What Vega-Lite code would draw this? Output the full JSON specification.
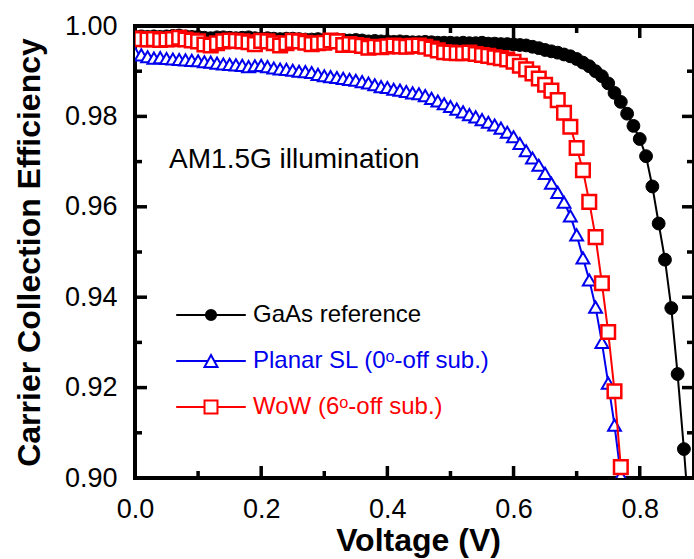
{
  "$schema": "https://vega.github.io/schema/vega-lite/v6.json",
  "width": 559,
  "height": 452,
  "autosize": {"type": "none"},
  "padding": {"left": 135, "top": 26, "right": 0, "bottom": 81},
  "background": "white",
  "config": {
    "view": {"stroke": "black", "strokeWidth": 4},
    "font": "Liberation Sans",
    "axis": {
      "grid": false,
      "labelFont": "Liberation Sans",
      "labelFontSize": 27,
      "labelColor": "black",
      "titleFont": "Liberation Sans",
      "titleFontSize": 32,
      "titleFontWeight": "bold",
      "titleColor": "black",
      "labelOverlap": false,
      "labelFlush": false
    }
  },
  "datasets": {
    "gaas": [
      {"series":"GaAs reference","V":0.00,"CCE":0.9976},{"series":"GaAs reference","V":0.01,"CCE":0.9977},{"series":"GaAs reference","V":0.02,"CCE":0.9976},{"series":"GaAs reference","V":0.03,"CCE":0.9977},{"series":"GaAs reference","V":0.04,"CCE":0.9976},{"series":"GaAs reference","V":0.05,"CCE":0.9977},{"series":"GaAs reference","V":0.06,"CCE":0.9978},{"series":"GaAs reference","V":0.07,"CCE":0.9979},{"series":"GaAs reference","V":0.08,"CCE":0.9977},{"series":"GaAs reference","V":0.09,"CCE":0.9976},
      {"series":"GaAs reference","V":0.10,"CCE":0.9976},{"series":"GaAs reference","V":0.11,"CCE":0.9974},{"series":"GaAs reference","V":0.12,"CCE":0.9973},{"series":"GaAs reference","V":0.13,"CCE":0.9975},{"series":"GaAs reference","V":0.14,"CCE":0.9975},{"series":"GaAs reference","V":0.15,"CCE":0.9974},{"series":"GaAs reference","V":0.16,"CCE":0.9973},{"series":"GaAs reference","V":0.17,"CCE":0.9974},{"series":"GaAs reference","V":0.18,"CCE":0.9975},{"series":"GaAs reference","V":0.19,"CCE":0.9973},
      {"series":"GaAs reference","V":0.20,"CCE":0.9972},{"series":"GaAs reference","V":0.21,"CCE":0.9973},{"series":"GaAs reference","V":0.22,"CCE":0.9972},{"series":"GaAs reference","V":0.23,"CCE":0.9971},{"series":"GaAs reference","V":0.24,"CCE":0.9972},{"series":"GaAs reference","V":0.25,"CCE":0.9972},{"series":"GaAs reference","V":0.26,"CCE":0.9971},{"series":"GaAs reference","V":0.27,"CCE":0.9970},{"series":"GaAs reference","V":0.28,"CCE":0.9970},{"series":"GaAs reference","V":0.29,"CCE":0.9971},
      {"series":"GaAs reference","V":0.30,"CCE":0.9969},{"series":"GaAs reference","V":0.31,"CCE":0.9969},{"series":"GaAs reference","V":0.32,"CCE":0.9970},{"series":"GaAs reference","V":0.33,"CCE":0.9969},{"series":"GaAs reference","V":0.34,"CCE":0.9968},{"series":"GaAs reference","V":0.35,"CCE":0.9969},{"series":"GaAs reference","V":0.36,"CCE":0.9968},{"series":"GaAs reference","V":0.37,"CCE":0.9966},{"series":"GaAs reference","V":0.38,"CCE":0.9967},{"series":"GaAs reference","V":0.39,"CCE":0.9966},
      {"series":"GaAs reference","V":0.40,"CCE":0.9966},{"series":"GaAs reference","V":0.41,"CCE":0.9965},{"series":"GaAs reference","V":0.42,"CCE":0.9966},{"series":"GaAs reference","V":0.43,"CCE":0.9965},{"series":"GaAs reference","V":0.44,"CCE":0.9964},{"series":"GaAs reference","V":0.45,"CCE":0.9964},{"series":"GaAs reference","V":0.46,"CCE":0.9965},{"series":"GaAs reference","V":0.47,"CCE":0.9964},{"series":"GaAs reference","V":0.48,"CCE":0.9963},{"series":"GaAs reference","V":0.49,"CCE":0.9963},
      {"series":"GaAs reference","V":0.50,"CCE":0.9963},{"series":"GaAs reference","V":0.51,"CCE":0.9962},{"series":"GaAs reference","V":0.52,"CCE":0.9963},{"series":"GaAs reference","V":0.53,"CCE":0.9962},{"series":"GaAs reference","V":0.54,"CCE":0.9962},{"series":"GaAs reference","V":0.55,"CCE":0.9963},{"series":"GaAs reference","V":0.56,"CCE":0.9961},{"series":"GaAs reference","V":0.57,"CCE":0.9961},{"series":"GaAs reference","V":0.58,"CCE":0.9960},{"series":"GaAs reference","V":0.59,"CCE":0.9960},
      {"series":"GaAs reference","V":0.60,"CCE":0.9959},{"series":"GaAs reference","V":0.61,"CCE":0.9958},{"series":"GaAs reference","V":0.62,"CCE":0.9957},{"series":"GaAs reference","V":0.63,"CCE":0.9954},{"series":"GaAs reference","V":0.64,"CCE":0.9951},{"series":"GaAs reference","V":0.65,"CCE":0.9947},{"series":"GaAs reference","V":0.66,"CCE":0.9944},{"series":"GaAs reference","V":0.67,"CCE":0.9941},{"series":"GaAs reference","V":0.68,"CCE":0.9937},{"series":"GaAs reference","V":0.69,"CCE":0.9933},
      {"series":"GaAs reference","V":0.70,"CCE":0.9927},{"series":"GaAs reference","V":0.71,"CCE":0.9919},{"series":"GaAs reference","V":0.72,"CCE":0.9911},{"series":"GaAs reference","V":0.73,"CCE":0.9900},{"series":"GaAs reference","V":0.74,"CCE":0.9889},{"series":"GaAs reference","V":0.75,"CCE":0.9873},{"series":"GaAs reference","V":0.76,"CCE":0.9852},{"series":"GaAs reference","V":0.77,"CCE":0.9832},{"series":"GaAs reference","V":0.78,"CCE":0.9806},{"series":"GaAs reference","V":0.79,"CCE":0.9779},
      {"series":"GaAs reference","V":0.80,"CCE":0.9750},{"series":"GaAs reference","V":0.81,"CCE":0.9712},{"series":"GaAs reference","V":0.82,"CCE":0.9645},{"series":"GaAs reference","V":0.83,"CCE":0.9563},{"series":"GaAs reference","V":0.84,"CCE":0.9483},{"series":"GaAs reference","V":0.85,"CCE":0.9376},{"series":"GaAs reference","V":0.86,"CCE":0.9230},{"series":"GaAs reference","V":0.87,"CCE":0.9064},{"series":"GaAs reference","V":0.88,"CCE":0.8880}
    ],
    "planar": [
      {"series":"Planar SL (0ᵒ-off sub.)","V":0.00,"CCE":0.9940},{"series":"Planar SL (0ᵒ-off sub.)","V":0.01,"CCE":0.9936},{"series":"Planar SL (0ᵒ-off sub.)","V":0.02,"CCE":0.9932},{"series":"Planar SL (0ᵒ-off sub.)","V":0.03,"CCE":0.9929},{"series":"Planar SL (0ᵒ-off sub.)","V":0.04,"CCE":0.9930},{"series":"Planar SL (0ᵒ-off sub.)","V":0.05,"CCE":0.9928},{"series":"Planar SL (0ᵒ-off sub.)","V":0.06,"CCE":0.9927},{"series":"Planar SL (0ᵒ-off sub.)","V":0.07,"CCE":0.9926},{"series":"Planar SL (0ᵒ-off sub.)","V":0.08,"CCE":0.9925},{"series":"Planar SL (0ᵒ-off sub.)","V":0.09,"CCE":0.9924},
      {"series":"Planar SL (0ᵒ-off sub.)","V":0.10,"CCE":0.9923},{"series":"Planar SL (0ᵒ-off sub.)","V":0.11,"CCE":0.9921},{"series":"Planar SL (0ᵒ-off sub.)","V":0.12,"CCE":0.9920},{"series":"Planar SL (0ᵒ-off sub.)","V":0.13,"CCE":0.9918},{"series":"Planar SL (0ᵒ-off sub.)","V":0.14,"CCE":0.9916},{"series":"Planar SL (0ᵒ-off sub.)","V":0.15,"CCE":0.9915},{"series":"Planar SL (0ᵒ-off sub.)","V":0.16,"CCE":0.9914},{"series":"Planar SL (0ᵒ-off sub.)","V":0.17,"CCE":0.9913},{"series":"Planar SL (0ᵒ-off sub.)","V":0.18,"CCE":0.9910},{"series":"Planar SL (0ᵒ-off sub.)","V":0.19,"CCE":0.9912},
      {"series":"Planar SL (0ᵒ-off sub.)","V":0.20,"CCE":0.9913},{"series":"Planar SL (0ᵒ-off sub.)","V":0.21,"CCE":0.9910},{"series":"Planar SL (0ᵒ-off sub.)","V":0.22,"CCE":0.9907},{"series":"Planar SL (0ᵒ-off sub.)","V":0.23,"CCE":0.9905},{"series":"Planar SL (0ᵒ-off sub.)","V":0.24,"CCE":0.9904},{"series":"Planar SL (0ᵒ-off sub.)","V":0.25,"CCE":0.9902},{"series":"Planar SL (0ᵒ-off sub.)","V":0.26,"CCE":0.9900},{"series":"Planar SL (0ᵒ-off sub.)","V":0.27,"CCE":0.9899},{"series":"Planar SL (0ᵒ-off sub.)","V":0.28,"CCE":0.9897},{"series":"Planar SL (0ᵒ-off sub.)","V":0.29,"CCE":0.9893},
      {"series":"Planar SL (0ᵒ-off sub.)","V":0.30,"CCE":0.9890},{"series":"Planar SL (0ᵒ-off sub.)","V":0.31,"CCE":0.9888},{"series":"Planar SL (0ᵒ-off sub.)","V":0.32,"CCE":0.9886},{"series":"Planar SL (0ᵒ-off sub.)","V":0.33,"CCE":0.9884},{"series":"Planar SL (0ᵒ-off sub.)","V":0.34,"CCE":0.9882},{"series":"Planar SL (0ᵒ-off sub.)","V":0.35,"CCE":0.9880},{"series":"Planar SL (0ᵒ-off sub.)","V":0.36,"CCE":0.9877},{"series":"Planar SL (0ᵒ-off sub.)","V":0.37,"CCE":0.9874},{"series":"Planar SL (0ᵒ-off sub.)","V":0.38,"CCE":0.9870},{"series":"Planar SL (0ᵒ-off sub.)","V":0.39,"CCE":0.9866},
      {"series":"Planar SL (0ᵒ-off sub.)","V":0.40,"CCE":0.9864},{"series":"Planar SL (0ᵒ-off sub.)","V":0.41,"CCE":0.9860},{"series":"Planar SL (0ᵒ-off sub.)","V":0.42,"CCE":0.9858},{"series":"Planar SL (0ᵒ-off sub.)","V":0.43,"CCE":0.9855},{"series":"Planar SL (0ᵒ-off sub.)","V":0.44,"CCE":0.9852},{"series":"Planar SL (0ᵒ-off sub.)","V":0.45,"CCE":0.9850},{"series":"Planar SL (0ᵒ-off sub.)","V":0.46,"CCE":0.9846},{"series":"Planar SL (0ᵒ-off sub.)","V":0.47,"CCE":0.9840},{"series":"Planar SL (0ᵒ-off sub.)","V":0.48,"CCE":0.9834},{"series":"Planar SL (0ᵒ-off sub.)","V":0.49,"CCE":0.9828},
      {"series":"Planar SL (0ᵒ-off sub.)","V":0.50,"CCE":0.9822},{"series":"Planar SL (0ᵒ-off sub.)","V":0.51,"CCE":0.9816},{"series":"Planar SL (0ᵒ-off sub.)","V":0.52,"CCE":0.9810},{"series":"Planar SL (0ᵒ-off sub.)","V":0.53,"CCE":0.9804},{"series":"Planar SL (0ᵒ-off sub.)","V":0.54,"CCE":0.9799},{"series":"Planar SL (0ᵒ-off sub.)","V":0.55,"CCE":0.9793},{"series":"Planar SL (0ᵒ-off sub.)","V":0.56,"CCE":0.9787},{"series":"Planar SL (0ᵒ-off sub.)","V":0.57,"CCE":0.9781},{"series":"Planar SL (0ᵒ-off sub.)","V":0.58,"CCE":0.9774},{"series":"Planar SL (0ᵒ-off sub.)","V":0.59,"CCE":0.9765},
      {"series":"Planar SL (0ᵒ-off sub.)","V":0.60,"CCE":0.9755},{"series":"Planar SL (0ᵒ-off sub.)","V":0.61,"CCE":0.9740},{"series":"Planar SL (0ᵒ-off sub.)","V":0.62,"CCE":0.9724},{"series":"Planar SL (0ᵒ-off sub.)","V":0.63,"CCE":0.9708},{"series":"Planar SL (0ᵒ-off sub.)","V":0.64,"CCE":0.9692},{"series":"Planar SL (0ᵒ-off sub.)","V":0.65,"CCE":0.9674},{"series":"Planar SL (0ᵒ-off sub.)","V":0.66,"CCE":0.9652},{"series":"Planar SL (0ᵒ-off sub.)","V":0.67,"CCE":0.9632},{"series":"Planar SL (0ᵒ-off sub.)","V":0.68,"CCE":0.9610},{"series":"Planar SL (0ᵒ-off sub.)","V":0.69,"CCE":0.9580},
      {"series":"Planar SL (0ᵒ-off sub.)","V":0.70,"CCE":0.9538},{"series":"Planar SL (0ᵒ-off sub.)","V":0.71,"CCE":0.9487},{"series":"Planar SL (0ᵒ-off sub.)","V":0.72,"CCE":0.9438},{"series":"Planar SL (0ᵒ-off sub.)","V":0.73,"CCE":0.9378},{"series":"Planar SL (0ᵒ-off sub.)","V":0.74,"CCE":0.9300},{"series":"Planar SL (0ᵒ-off sub.)","V":0.75,"CCE":0.9210},{"series":"Planar SL (0ᵒ-off sub.)","V":0.76,"CCE":0.9117},{"series":"Planar SL (0ᵒ-off sub.)","V":0.77,"CCE":0.9005}
    ],
    "wow": [
      {"series":"WoW (6ᵒ-off sub.)","V":0.00,"CCE":0.9972},{"series":"WoW (6ᵒ-off sub.)","V":0.01,"CCE":0.9971},{"series":"WoW (6ᵒ-off sub.)","V":0.02,"CCE":0.9970},{"series":"WoW (6ᵒ-off sub.)","V":0.03,"CCE":0.9971},{"series":"WoW (6ᵒ-off sub.)","V":0.04,"CCE":0.9969},{"series":"WoW (6ᵒ-off sub.)","V":0.05,"CCE":0.9970},{"series":"WoW (6ᵒ-off sub.)","V":0.06,"CCE":0.9971},{"series":"WoW (6ᵒ-off sub.)","V":0.07,"CCE":0.9974},{"series":"WoW (6ᵒ-off sub.)","V":0.08,"CCE":0.9970},{"series":"WoW (6ᵒ-off sub.)","V":0.09,"CCE":0.9968},
      {"series":"WoW (6ᵒ-off sub.)","V":0.10,"CCE":0.9966},{"series":"WoW (6ᵒ-off sub.)","V":0.11,"CCE":0.9959},{"series":"WoW (6ᵒ-off sub.)","V":0.12,"CCE":0.9957},{"series":"WoW (6ᵒ-off sub.)","V":0.13,"CCE":0.9962},{"series":"WoW (6ᵒ-off sub.)","V":0.14,"CCE":0.9966},{"series":"WoW (6ᵒ-off sub.)","V":0.15,"CCE":0.9968},{"series":"WoW (6ᵒ-off sub.)","V":0.16,"CCE":0.9967},{"series":"WoW (6ᵒ-off sub.)","V":0.17,"CCE":0.9966},{"series":"WoW (6ᵒ-off sub.)","V":0.18,"CCE":0.9964},{"series":"WoW (6ᵒ-off sub.)","V":0.19,"CCE":0.9960},
      {"series":"WoW (6ᵒ-off sub.)","V":0.20,"CCE":0.9967},{"series":"WoW (6ᵒ-off sub.)","V":0.21,"CCE":0.9966},{"series":"WoW (6ᵒ-off sub.)","V":0.22,"CCE":0.9962},{"series":"WoW (6ᵒ-off sub.)","V":0.23,"CCE":0.9957},{"series":"WoW (6ᵒ-off sub.)","V":0.24,"CCE":0.9962},{"series":"WoW (6ᵒ-off sub.)","V":0.25,"CCE":0.9967},{"series":"WoW (6ᵒ-off sub.)","V":0.26,"CCE":0.9966},{"series":"WoW (6ᵒ-off sub.)","V":0.27,"CCE":0.9963},{"series":"WoW (6ᵒ-off sub.)","V":0.28,"CCE":0.9960},{"series":"WoW (6ᵒ-off sub.)","V":0.29,"CCE":0.9962},
      {"series":"WoW (6ᵒ-off sub.)","V":0.30,"CCE":0.9963},{"series":"WoW (6ᵒ-off sub.)","V":0.31,"CCE":0.9968},{"series":"WoW (6ᵒ-off sub.)","V":0.32,"CCE":0.9966},{"series":"WoW (6ᵒ-off sub.)","V":0.33,"CCE":0.9958},{"series":"WoW (6ᵒ-off sub.)","V":0.34,"CCE":0.9960},{"series":"WoW (6ᵒ-off sub.)","V":0.35,"CCE":0.9958},{"series":"WoW (6ᵒ-off sub.)","V":0.36,"CCE":0.9956},{"series":"WoW (6ᵒ-off sub.)","V":0.37,"CCE":0.9952},{"series":"WoW (6ᵒ-off sub.)","V":0.38,"CCE":0.9954},{"series":"WoW (6ᵒ-off sub.)","V":0.39,"CCE":0.9953},
      {"series":"WoW (6ᵒ-off sub.)","V":0.40,"CCE":0.9955},{"series":"WoW (6ᵒ-off sub.)","V":0.41,"CCE":0.9957},{"series":"WoW (6ᵒ-off sub.)","V":0.42,"CCE":0.9955},{"series":"WoW (6ᵒ-off sub.)","V":0.43,"CCE":0.9954},{"series":"WoW (6ᵒ-off sub.)","V":0.44,"CCE":0.9956},{"series":"WoW (6ᵒ-off sub.)","V":0.45,"CCE":0.9957},{"series":"WoW (6ᵒ-off sub.)","V":0.46,"CCE":0.9954},{"series":"WoW (6ᵒ-off sub.)","V":0.47,"CCE":0.9950},{"series":"WoW (6ᵒ-off sub.)","V":0.48,"CCE":0.9946},{"series":"WoW (6ᵒ-off sub.)","V":0.49,"CCE":0.9942},
      {"series":"WoW (6ᵒ-off sub.)","V":0.50,"CCE":0.9941},{"series":"WoW (6ᵒ-off sub.)","V":0.51,"CCE":0.9940},{"series":"WoW (6ᵒ-off sub.)","V":0.52,"CCE":0.9940},{"series":"WoW (6ᵒ-off sub.)","V":0.53,"CCE":0.9941},{"series":"WoW (6ᵒ-off sub.)","V":0.54,"CCE":0.9938},{"series":"WoW (6ᵒ-off sub.)","V":0.55,"CCE":0.9936},{"series":"WoW (6ᵒ-off sub.)","V":0.56,"CCE":0.9934},{"series":"WoW (6ᵒ-off sub.)","V":0.57,"CCE":0.9931},{"series":"WoW (6ᵒ-off sub.)","V":0.58,"CCE":0.9929},{"series":"WoW (6ᵒ-off sub.)","V":0.59,"CCE":0.9926},
      {"series":"WoW (6ᵒ-off sub.)","V":0.60,"CCE":0.9921},{"series":"WoW (6ᵒ-off sub.)","V":0.61,"CCE":0.9912},{"series":"WoW (6ᵒ-off sub.)","V":0.62,"CCE":0.9904},{"series":"WoW (6ᵒ-off sub.)","V":0.63,"CCE":0.9895},{"series":"WoW (6ᵒ-off sub.)","V":0.64,"CCE":0.9884},{"series":"WoW (6ᵒ-off sub.)","V":0.65,"CCE":0.9870},{"series":"WoW (6ᵒ-off sub.)","V":0.66,"CCE":0.9857},{"series":"WoW (6ᵒ-off sub.)","V":0.67,"CCE":0.9836},{"series":"WoW (6ᵒ-off sub.)","V":0.68,"CCE":0.9808},{"series":"WoW (6ᵒ-off sub.)","V":0.69,"CCE":0.9777},
      {"series":"WoW (6ᵒ-off sub.)","V":0.70,"CCE":0.9730},{"series":"WoW (6ᵒ-off sub.)","V":0.71,"CCE":0.9681},{"series":"WoW (6ᵒ-off sub.)","V":0.72,"CCE":0.9611},{"series":"WoW (6ᵒ-off sub.)","V":0.73,"CCE":0.9533},{"series":"WoW (6ᵒ-off sub.)","V":0.74,"CCE":0.9431},{"series":"WoW (6ᵒ-off sub.)","V":0.75,"CCE":0.9323},{"series":"WoW (6ᵒ-off sub.)","V":0.76,"CCE":0.9192},{"series":"WoW (6ᵒ-off sub.)","V":0.77,"CCE":0.9024}
    ],
    "legend": [
      {"series": "GaAs reference"},
      {"series": "Planar SL (0ᵒ-off sub.)"},
      {"series": "WoW (6ᵒ-off sub.)"}
    ],
    "note": [{"label": "AM1.5G illumination"}],
    "xmajor": [{"v": 0}, {"v": 0.2}, {"v": 0.4}, {"v": 0.6}, {"v": 0.8}],
    "xminor": [{"v": 0.1}, {"v": 0.3}, {"v": 0.5}, {"v": 0.7}],
    "ymajor": [{"v": 0.90}, {"v": 0.92}, {"v": 0.94}, {"v": 0.96}, {"v": 0.98}, {"v": 1.00}],
    "yminor": [{"v": 0.91}, {"v": 0.93}, {"v": 0.95}, {"v": 0.97}, {"v": 0.99}]
  },
  "layer": [
    {
      "data": {"name": "gaas"},
      "mark": {"type": "line", "color": "black", "strokeWidth": 2, "clip": true},
      "encoding": {
        "x": {"field": "V", "type": "quantitative", "scale": {"domain": [0, 0.886], "nice": false, "zero": false},
          "axis": {"orient": "bottom", "domain": false, "values": [0, 0.2, 0.4, 0.6, 0.8], "format": ".1f", "ticks": false, "tickSize": 0, "labelPadding": 18,
            "title": "Voltage (V)", "titleX": 283, "titleY": 72, "titleAlign": "center", "titleBaseline": "alphabetic"}},
        "y": {"field": "CCE", "type": "quantitative", "scale": {"domain": [0.9, 1.0], "nice": false, "zero": false},
          "axis": {"orient": "left", "domain": false, "values": [0.90, 0.92, 0.94, 0.96, 0.98, 1.00], "format": ".2f", "ticks": false, "tickSize": 0, "labelPadding": 18,
            "title": "Carrier Collection Efficiency", "titleX": -96, "titleY": 226, "titleAngle": 270, "titleAlign": "center", "titleBaseline": "alphabetic"}}
      }
    },
    {
      "data": {"name": "xmajor"},
      "mark": {"type": "point", "shape": "M0,0L0,-2", "size": 144, "filled": false, "stroke": "black", "strokeWidth": 3.5, "opacity": 1},
      "encoding": {
        "x": {"field": "v", "type": "quantitative", "scale": {"domain": [0, 0.886], "nice": false, "zero": false}, "axis": null},
        "y": {"datum": 0.9, "type": "quantitative", "scale": {"domain": [0.9, 1.0], "nice": false, "zero": false}, "axis": null}
      }
    },
    {
      "data": {"name": "xminor"},
      "mark": {"type": "point", "shape": "M0,0L0,-1.17", "size": 144, "filled": false, "stroke": "black", "strokeWidth": 3.5, "opacity": 1},
      "encoding": {
        "x": {"field": "v", "type": "quantitative", "scale": {"domain": [0, 0.886], "nice": false, "zero": false}, "axis": null},
        "y": {"datum": 0.9, "type": "quantitative", "scale": {"domain": [0.9, 1.0], "nice": false, "zero": false}, "axis": null}
      }
    },
    {
      "data": {"name": "xmajor"},
      "mark": {"type": "point", "shape": "M0,0L0,2", "size": 144, "filled": false, "stroke": "black", "strokeWidth": 3.5, "opacity": 1},
      "encoding": {
        "x": {"field": "v", "type": "quantitative", "scale": {"domain": [0, 0.886], "nice": false, "zero": false}, "axis": null},
        "y": {"datum": 1.0, "type": "quantitative", "scale": {"domain": [0.9, 1.0], "nice": false, "zero": false}, "axis": null}
      }
    },
    {
      "data": {"name": "xminor"},
      "mark": {"type": "point", "shape": "M0,0L0,1.17", "size": 144, "filled": false, "stroke": "black", "strokeWidth": 3.5, "opacity": 1},
      "encoding": {
        "x": {"field": "v", "type": "quantitative", "scale": {"domain": [0, 0.886], "nice": false, "zero": false}, "axis": null},
        "y": {"datum": 1.0, "type": "quantitative", "scale": {"domain": [0.9, 1.0], "nice": false, "zero": false}, "axis": null}
      }
    },
    {
      "data": {"name": "ymajor"},
      "mark": {"type": "point", "shape": "M0,0L2,0", "size": 144, "filled": false, "stroke": "black", "strokeWidth": 3.5, "opacity": 1},
      "encoding": {
        "y": {"field": "v", "type": "quantitative", "scale": {"domain": [0.9, 1.0], "nice": false, "zero": false}, "axis": null},
        "x": {"datum": 0, "type": "quantitative", "scale": {"domain": [0, 0.886], "nice": false, "zero": false}, "axis": null}
      }
    },
    {
      "data": {"name": "yminor"},
      "mark": {"type": "point", "shape": "M0,0L1.17,0", "size": 144, "filled": false, "stroke": "black", "strokeWidth": 3.5, "opacity": 1},
      "encoding": {
        "y": {"field": "v", "type": "quantitative", "scale": {"domain": [0.9, 1.0], "nice": false, "zero": false}, "axis": null},
        "x": {"datum": 0, "type": "quantitative", "scale": {"domain": [0, 0.886], "nice": false, "zero": false}, "axis": null}
      }
    },
    {
      "data": {"name": "ymajor"},
      "mark": {"type": "point", "shape": "M0,0L-2,0", "size": 144, "filled": false, "stroke": "black", "strokeWidth": 3.5, "opacity": 1},
      "encoding": {
        "y": {"field": "v", "type": "quantitative", "scale": {"domain": [0.9, 1.0], "nice": false, "zero": false}, "axis": null},
        "x": {"datum": 0.886, "type": "quantitative", "scale": {"domain": [0, 0.886], "nice": false, "zero": false}, "axis": null}
      }
    },
    {
      "data": {"name": "yminor"},
      "mark": {"type": "point", "shape": "M0,0L-1.17,0", "size": 144, "filled": false, "stroke": "black", "strokeWidth": 3.5, "opacity": 1},
      "encoding": {
        "y": {"field": "v", "type": "quantitative", "scale": {"domain": [0.9, 1.0], "nice": false, "zero": false}, "axis": null},
        "x": {"datum": 0.886, "type": "quantitative", "scale": {"domain": [0, 0.886], "nice": false, "zero": false}, "axis": null}
      }
    },
    {
      "data": {"name": "gaas"},
      "mark": {"type": "point", "shape": "circle", "filled": true, "fill": "black", "stroke": "black", "size": 165, "opacity": 1, "strokeWidth": 1, "clip": true},
      "encoding": {
        "x": {"field": "V", "type": "quantitative", "scale": {"domain": [0, 0.886], "nice": false, "zero": false}, "axis": null},
        "y": {"field": "CCE", "type": "quantitative", "scale": {"domain": [0.9, 1.0], "nice": false, "zero": false}, "axis": null}
      }
    },
    {
      "data": {"name": "planar"},
      "mark": {"type": "line", "color": "#0000ee", "strokeWidth": 2, "clip": true},
      "encoding": {
        "x": {"field": "V", "type": "quantitative", "scale": {"domain": [0, 0.886], "nice": false, "zero": false}, "axis": null},
        "y": {"field": "CCE", "type": "quantitative", "scale": {"domain": [0.9, 1.0], "nice": false, "zero": false}, "axis": null}
      }
    },
    {
      "data": {"name": "planar"},
      "mark": {"type": "point", "shape": "triangle-up", "filled": true, "fill": "white", "stroke": "#0000ee", "strokeWidth": 2, "size": 165, "opacity": 1, "clip": true},
      "encoding": {
        "x": {"field": "V", "type": "quantitative", "scale": {"domain": [0, 0.886], "nice": false, "zero": false}, "axis": null},
        "y": {"field": "CCE", "type": "quantitative", "scale": {"domain": [0.9, 1.0], "nice": false, "zero": false}, "axis": null}
      }
    },
    {
      "data": {"name": "wow"},
      "mark": {"type": "line", "color": "#ff0000", "strokeWidth": 2, "clip": true},
      "encoding": {
        "x": {"field": "V", "type": "quantitative", "scale": {"domain": [0, 0.886], "nice": false, "zero": false}, "axis": null},
        "y": {"field": "CCE", "type": "quantitative", "scale": {"domain": [0.9, 1.0], "nice": false, "zero": false}, "axis": null}
      }
    },
    {
      "data": {"name": "wow"},
      "mark": {"type": "point", "shape": "square", "filled": true, "fill": "white", "stroke": "#ff0000", "strokeWidth": 2.5, "size": 185, "opacity": 1, "clip": true},
      "encoding": {
        "x": {"field": "V", "type": "quantitative", "scale": {"domain": [0, 0.886], "nice": false, "zero": false}, "axis": null},
        "y": {"field": "CCE", "type": "quantitative", "scale": {"domain": [0.9, 1.0], "nice": false, "zero": false}, "axis": null}
      }
    },
    {
      "data": {"name": "note"},
      "mark": {"type": "text", "align": "left", "baseline": "alphabetic", "font": "Liberation Sans", "fontSize": 28, "color": "black"},
      "encoding": {
        "text": {"field": "label"},
        "x": {"datum": 0.054, "type": "quantitative", "scale": {"domain": [0, 0.886], "nice": false, "zero": false}, "axis": null},
        "y": {"datum": 0.9686, "type": "quantitative", "scale": {"domain": [0.9, 1.0], "nice": false, "zero": false}, "axis": null}
      }
    },
    {
      "data": {"name": "legend"},
      "mark": {"type": "point", "size": 144, "opacity": 0, "strokeWidth": 2},
      "encoding": {
        "shape": {"field": "series", "type": "nominal",
          "scale": {"domain": ["GaAs reference", "Planar SL (0ᵒ-off sub.)", "WoW (6ᵒ-off sub.)"],
            "range": ["M-5.8,0H5.8M-0.85,0A0.85,0.85,0,1,1,0.85,0A0.85,0.85,0,1,1,-0.85,0Z", "M-5.8,0H-0.54M0.54,0H5.8M0,-1L1.08,1L-1.08,1Z", "M-5.8,0H-1.08M1.08,0H5.8M-1.08,-1.08H1.08V1.08H-1.08Z"]},
          "legend": {"orient": "none", "legendX": 64, "legendY": 277, "title": null, "direction": "vertical",
            "symbolSize": 144, "symbolStrokeWidth": 2, "symbolOpacity": 1, "labelOffset": 30, "rowPadding": 22, "padding": 0,
            "labelFont": "Liberation Sans", "labelFontSize": 24, "labelLimit": 0, "labelBaseline": "middle",
            "labelColor": {"expr": "datum.value == 'GaAs reference' ? 'black' : datum.value == 'WoW (6ᵒ-off sub.)' ? '#ff0000' : '#0000ee'"}}},
        "fill": {"field": "series", "type": "nominal",
          "scale": {"domain": ["GaAs reference", "Planar SL (0ᵒ-off sub.)", "WoW (6ᵒ-off sub.)"], "range": ["#000000", "#ffffff", "#ffffff"]},
          "legend": {"orient": "none", "legendX": 64, "legendY": 277, "title": null, "direction": "vertical",
            "symbolSize": 144, "symbolStrokeWidth": 2, "symbolOpacity": 1, "labelOffset": 30, "rowPadding": 22, "padding": 0,
            "labelFont": "Liberation Sans", "labelFontSize": 24, "labelLimit": 0, "labelBaseline": "middle",
            "labelColor": {"expr": "datum.value == 'GaAs reference' ? 'black' : datum.value == 'WoW (6ᵒ-off sub.)' ? '#ff0000' : '#0000ee'"}}},
        "stroke": {"field": "series", "type": "nominal",
          "scale": {"domain": ["GaAs reference", "Planar SL (0ᵒ-off sub.)", "WoW (6ᵒ-off sub.)"], "range": ["#000000", "#0000ee", "#ff0000"]},
          "legend": {"orient": "none", "legendX": 64, "legendY": 277, "title": null, "direction": "vertical",
            "symbolSize": 144, "symbolStrokeWidth": 2, "symbolOpacity": 1, "labelOffset": 30, "rowPadding": 22, "padding": 0,
            "labelFont": "Liberation Sans", "labelFontSize": 24, "labelLimit": 0, "labelBaseline": "middle",
            "labelColor": {"expr": "datum.value == 'GaAs reference' ? 'black' : datum.value == 'WoW (6ᵒ-off sub.)' ? '#ff0000' : '#0000ee'"}}}
      }
    }
  ],
  "resolve": {"scale": {"x": "independent", "y": "independent"}, "axis": {"x": "independent", "y": "independent"}}
}
